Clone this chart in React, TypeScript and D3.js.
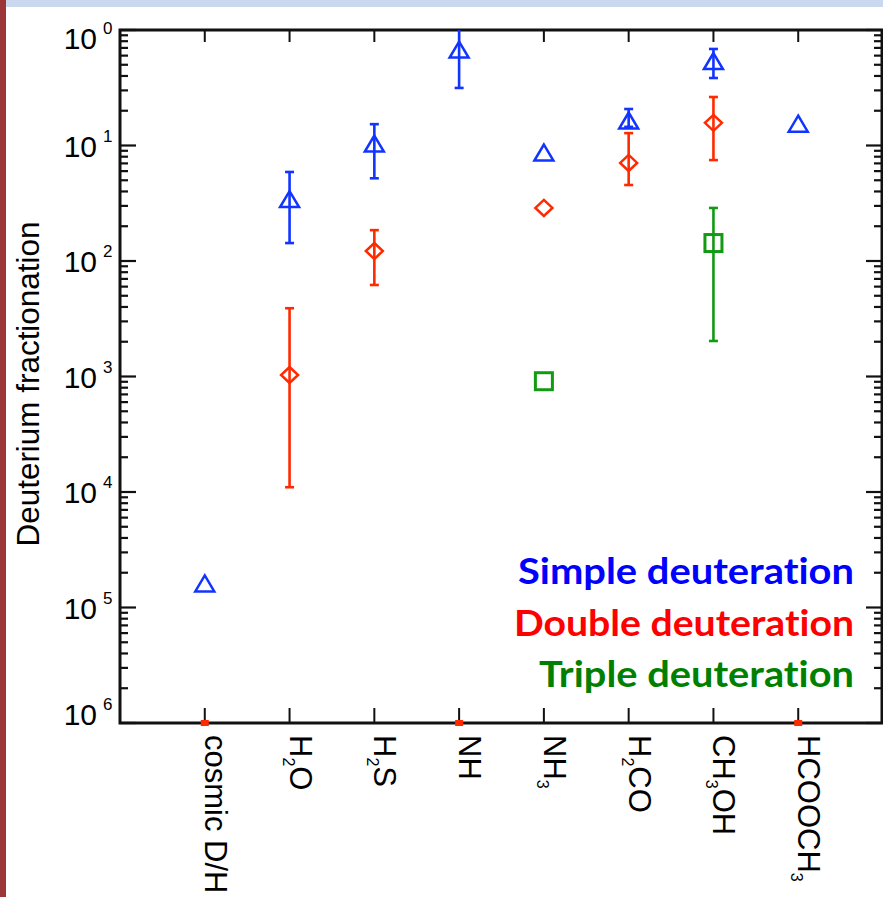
import * as d3 from "d3";

const SvgWidth = 883;
const SvgHeight = 897;

// x categories (digits are drawn as subscripts)
const categories = ["cosmic D/H", "H2O", "H2S", "NH", "NH3", "H2CO", "CH3OH", "HCOOCH3"];

// simple deuteration (blue triangles)
const simpleCats = ["cosmic D/H", "H2O", "H2S", "NH", "NH3", "H2CO", "CH3OH", "HCOOCH3"];
const simpleVals = [1.6e-5, 0.034, 0.103, 0.67, 0.086, 0.163, 0.533, 0.153];
const simpleLo = [null, 0.0143, 0.052, 0.315, null, 0.145, 0.384, null];
const simpleHi = [null, 0.059, 0.153, 1.1, null, 0.207, 0.685, null];

// double deuteration (red diamonds)
const doubleCats = ["H2O", "H2S", "NH3", "H2CO", "CH3OH"];
const doubleVals = [0.00103, 0.0122, 0.0288, 0.0706, 0.157];
const doubleLo = [1.1e-4, 0.0062, null, 0.0455, 0.0748];
const doubleHi = [0.0039, 0.0185, null, 0.128, 0.263];
// points sitting on the bottom axis
const doubleFloorCats = ["cosmic D/H", "NH", "HCOOCH3"];

// triple deuteration (green squares)
const tripleCats = ["NH3", "CH3OH"];
const tripleVals = [9.1e-4, 0.0143];
const tripleLo = [null, 0.00203];
const tripleHi = [null, 0.0288];

const yTickExps = [0, 1, 2, 3, 4, 5, 6];

const legendTexts = ["Simple deuteration", "Double deuteration", "Triple deuteration"];
const legendColors = ["#0000ff", "#ff0000", "#008000"];
const legendWidths = [336, 340, 315];

const blue = "#1234ff";
const red = "#ff2a00";
const green = "#129a12";

const left = 120;
const right = 882;
const top = 30;
const bottom = 723;

const axisFont = "'Liberation Sans', Arial, Helvetica, sans-serif";

function labelParts(s: string) {
    // split "CH3OH" into normal / subscript runs
    const parts: { t: string; sub: boolean }[] = [];
    for (const ch of s) {
        const sub = /[0-9]/.test(ch);
        const last = parts[parts.length - 1];
        if (last && last.sub === sub) last.t += ch;
        else parts.push({ t: ch, sub });
    }
    return parts;
}

function ErrorBar({ x, y1, y2, color }: any) {
    return (
        <g stroke={color} strokeWidth={2.6}>
            <line x1={x} x2={x} y1={y1} y2={y2} />
            <line x1={x - 4.5} x2={x + 4.5} y1={y1} y2={y1} />
            <line x1={x - 4.5} x2={x + 4.5} y1={y2} y2={y2} />
        </g>
    );
}

function App() {
    const xScale = d3.scalePoint<string>().domain(categories).range([left, right + 1]).padding(1);
    const yScale = d3.scaleLog().domain([1e-6, 1]).range([bottom, top]);

    const yTicks = yScale.ticks();
    const isMajor = (v: number) => Math.abs(Math.log10(v) - Math.round(Math.log10(v))) < 1e-6;

    return (
        <svg width={SvgWidth} height={SvgHeight} style={{ position: "absolute", left: 0, top: 0, background: "#fff" }}>
            <defs>
                <clipPath id="plotClip">
                    <rect x={left} y={top} width={right - left} height={bottom - top} />
                </clipPath>
            </defs>
            <rect x={0} y={0} width={SvgWidth} height={SvgHeight} fill="#fff" />
            <rect x={0} y={0} width={SvgWidth} height={7} fill="#c9d8ee" />
            <rect x={0} y={0} width={6} height={SvgHeight} fill="#9b3737" />

            {/* y ticks left and right */}
            {yTicks.map((t, i) => {
                const yy = yScale(t);
                const len = isMajor(t) ? 16 : 8;
                return (
                    <g key={"yt" + i} stroke="#111" strokeWidth={2.2}>
                        <line x1={left} x2={left + len} y1={yy} y2={yy} />
                        <line x1={right} x2={right - len} y1={yy} y2={yy} />
                    </g>
                );
            })}

            {/* x ticks bottom and top */}
            {categories.map((c) => (
                <g key={"xt" + c} stroke="#111" strokeWidth={2}>
                    <line x1={xScale(c)} x2={xScale(c)} y1={bottom} y2={bottom - 15} />
                    <line x1={xScale(c)} x2={xScale(c)} y1={top} y2={top + 12} />
                </g>
            ))}

            <rect x={left} y={top} width={right - left} height={bottom - top} fill="none" stroke="#111" strokeWidth={3} />

            {/* y tick labels */}
            {yTickExps.map((e) => {
                const yy = Math.max(38, Math.min(714, yScale(Math.pow(10, -e))));
                return (
                    <g key={"yl" + e} fontFamily={axisFont}>
                        <text x={97} y={yy + 11} fontSize={30} textAnchor="end" fill="#000">10</text>
                        <text x={103} y={yy - 4} fontSize={17} fill="#000">{String(e)}</text>
                    </g>
                );
            })}

            <text
                transform={`translate(39, 384) rotate(-90)`}
                textAnchor="middle"
                fontFamily={axisFont}
                fontSize={31}
                textLength={325}
                lengthAdjust="spacingAndGlyphs"
                fill="#000"
            >
                Deuterium fractionation
            </text>

            {/* x labels, rotated */}
            {categories.map((c) => (
                <text
                    key={"xl" + c}
                    transform={`translate(${xScale(c)}, 735) rotate(90)`}
                    fontFamily={axisFont}
                    fontSize={31}
                    fill="#000"
                >
                    {labelParts(c).map((p, i) =>
                        p.sub ? (
                            <tspan key={i} fontSize={16} dy={7}>{p.t}</tspan>
                        ) : (
                            <tspan key={i} dy={i > 0 && labelParts(c)[i - 1].sub ? -7 : 0}>{p.t}</tspan>
                        )
                    )}
                </text>
            ))}

            <g clipPath="url(#plotClip)">
                {/* double deuteration */}
                {doubleCats.map((c, i) => {
                    const xx = xScale(c)!;
                    return (
                        <g key={"d" + c}>
                            {doubleLo[i] != null && (
                                <ErrorBar x={xx} y1={yScale(doubleHi[i]!)} y2={yScale(doubleLo[i]!)} color={red} />
                            )}
                            <path
                                d="M0,-8L8.5,0L0,8L-8.5,0Z"
                                transform={`translate(${xx},${yScale(doubleVals[i])})`}
                                fill="none"
                                stroke={red}
                                strokeWidth={2.5}
                            />
                        </g>
                    );
                })}

                {/* triple deuteration */}
                {tripleCats.map((c, i) => {
                    const xx = xScale(c)!;
                    return (
                        <g key={"t" + c}>
                            {tripleLo[i] != null && (
                                <ErrorBar x={xx} y1={yScale(tripleHi[i]!)} y2={yScale(tripleLo[i]!)} color={green} />
                            )}
                            <rect
                                x={xx - 8.5}
                                y={yScale(tripleVals[i]) - 8.5}
                                width={17}
                                height={17}
                                fill="none"
                                stroke={green}
                                strokeWidth={3}
                            />
                        </g>
                    );
                })}

                {/* simple deuteration */}
                {simpleCats.map((c, i) => {
                    const xx = xScale(c)!;
                    return (
                        <g key={"s" + c}>
                            {simpleLo[i] != null && (
                                <ErrorBar x={xx} y1={yScale(simpleHi[i]!)} y2={yScale(simpleLo[i]!)} color={blue} />
                            )}
                            <path
                                d="M0,-8.5L9.5,7.5L-9.5,7.5Z"
                                transform={`translate(${xx},${yScale(simpleVals[i])})`}
                                fill="none"
                                stroke={blue}
                                strokeWidth={2.5}
                            />
                        </g>
                    );
                })}
            </g>

            {/* double deuteration values below the axis range */}
            {doubleFloorCats.map((c) => (
                <rect key={"f" + c} x={xScale(c)! - 4} y={bottom - 3} width={8} height={6} fill={red} />
            ))}

            {/* legend */}
            {legendTexts.map((t, i) => (
                <text
                    key={"lg" + i}
                    x={854}
                    y={584 + i * 51.5}
                    textAnchor="end"
                    fontFamily="Lato, 'Open Sans', sans-serif"
                    fontWeight={700}
                    fontSize={36}
                    textLength={legendWidths[i]}
                    lengthAdjust="spacingAndGlyphs"
                    style={{ fontVariantLigatures: "none" }}
                    fill={legendColors[i]}
                >
                    {t}
                </text>
            ))}
        </svg>
    );
}

export default App;
